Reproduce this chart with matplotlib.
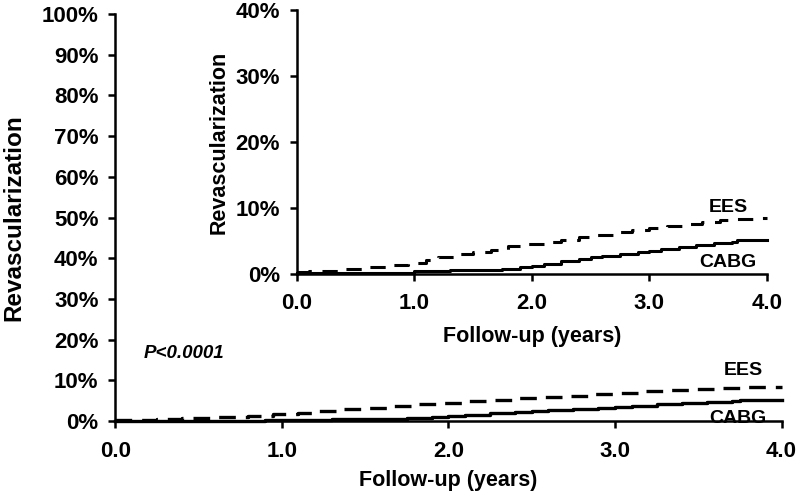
import numpy as np
import matplotlib.pyplot as plt
from matplotlib.ticker import FuncFormatter

plt.rcParams['font.family'] = ['Liberation Sans', 'DejaVu Sans']
plt.rcParams['font.weight'] = 'bold'

# Cumulative revascularization (%), step curves
ees_t = [0, 0.1, 0.25, 0.4, 0.6, 0.8, 0.95, 1.1, 1.2, 1.35, 1.5, 1.65, 1.8, 1.95,
         2.1, 2.25, 2.4, 2.55, 2.7, 2.85, 3.0, 3.15, 3.3, 3.45, 3.6, 3.75, 3.9, 4.0]
ees_v = [0.3, 0.4, 0.5, 0.8, 1.0, 1.3, 1.7, 2.1, 2.6, 3.0, 3.3, 3.7, 4.2, 4.5,
         4.9, 5.2, 5.6, 5.9, 6.3, 6.6, 6.9, 7.3, 7.6, 7.9, 8.2, 8.4, 8.5, 8.5]
cabg_t = [0, 0.9, 1.0, 1.3, 1.75, 1.9, 2.0, 2.1, 2.25, 2.4, 2.5, 2.6, 2.75, 2.9,
          3.0, 3.1, 3.25, 3.4, 3.55, 3.7, 3.75, 4.0]
cabg_v = [0.1, 0.2, 0.4, 0.6, 0.8, 1.0, 1.2, 1.5, 1.9, 2.2, 2.5, 2.7, 3.0, 3.3,
          3.5, 3.8, 4.1, 4.4, 4.7, 4.9, 5.1, 5.1]

x_ticks = [0, 1, 2, 3, 4]
main_yticks = list(range(0, 101, 10))
inset_yticks = [0, 10, 20, 30, 40]

pct = FuncFormatter(lambda v, p: f"{v:.0f}%")
yrs = FuncFormatter(lambda v, p: f"{v:.1f}")


def style(ax, yticks, ymax, ylab_size):
    for s in ['top', 'right']:
        ax.spines[s].set_visible(False)
    for s in ['left', 'bottom']:
        ax.spines[s].set_linewidth(1.8)
    ax.set_xlim(0, 4)
    ax.set_ylim(0, ymax)
    ax.set_xticks(x_ticks)
    ax.set_yticks(yticks)
    ax.xaxis.set_major_formatter(yrs)
    ax.yaxis.set_major_formatter(pct)
    ax.tick_params(direction='out', length=5, width=1.8, labelsize=16)
    ax.tick_params(axis='x', pad=9)
    ax.tick_params(axis='y', pad=7)
    ax.set_xlabel('Follow-up (years)', fontsize=15.5, fontweight='bold')
    ax.set_ylabel('Revascularization', fontsize=ylab_size, fontweight='bold')


fig = plt.figure(figsize=(8, 4.99), dpi=100)

# main panel
ax = fig.add_axes([0.144, 0.156, 0.833, 0.816])
style(ax, main_yticks, 100, 17.5)
ax.plot(ees_t, ees_v, drawstyle='steps-post', color='black', lw=2.4,
        dashes=(5, 3), clip_on=False)
ax.plot(cabg_t, cabg_v, drawstyle='steps-post', color='black', lw=2.4,
        clip_on=False)
ax.text(3.77, 12.5, 'EES', fontsize=14, fontweight='bold', ha='center', va='center')
ax.text(3.74, 0.7, 'CABG', fontsize=14, fontweight='bold', ha='center', va='center')
ax.text(0.17, 16.7, 'P<0.0001', fontsize=13.5, fontweight='bold', style='italic',
        ha='left', va='center')
ax.xaxis.labelpad = 6
ax.yaxis.labelpad = 12

# inset panel
ins = fig.add_axes([0.371, 0.451, 0.5875, 0.529])
style(ins, inset_yticks, 40, 15.5)
ins.plot(ees_t, ees_v, drawstyle='steps-post', color='black', lw=2.2,
         dashes=(5, 3.5), clip_on=False)
ins.plot(cabg_t, cabg_v, drawstyle='steps-post', color='black', lw=2.2,
         clip_on=False)
ins.text(3.67, 10.0, 'EES', fontsize=14, fontweight='bold', ha='center', va='center')
ins.text(3.67, 1.7, 'CABG', fontsize=14, fontweight='bold', ha='center', va='center')
ins.xaxis.labelpad = 8
ins.yaxis.labelpad = 4

fig.savefig('out.png', dpi=100)
